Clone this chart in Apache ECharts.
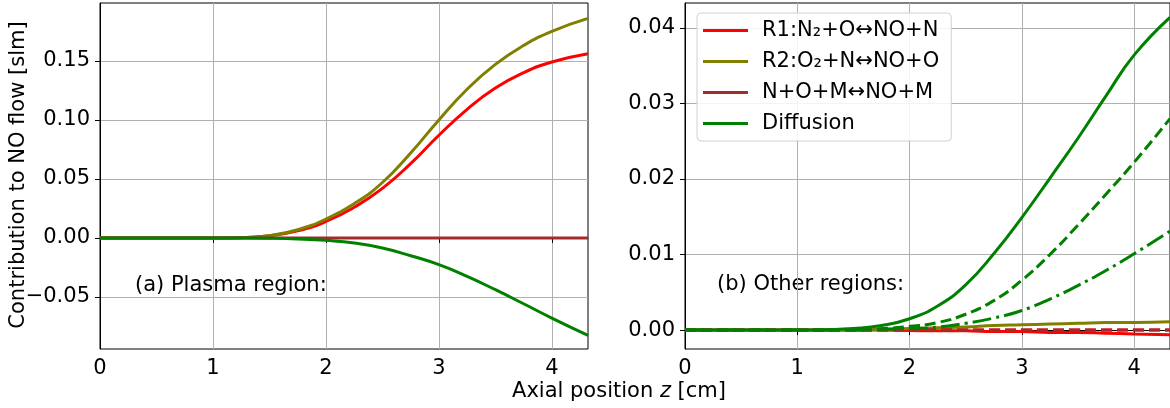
<!DOCTYPE html>
<html>
<head>
<meta charset="utf-8">
<script src="https://cdn.jsdelivr.net/npm/echarts@6/dist/echarts.min.js"></script>
<style>
  html, body { margin: 0; padding: 0; background: #fff; }
  #chart { width: 1170px; height: 408px; }
</style>
</head>
<body>
<div id="chart"></div>
<script>
// axial positions (cm)
var zs = [0, 0.5, 1, 1.25, 1.5, 1.75, 2, 2.25, 2.5, 2.75, 3, 3.25, 3.5, 3.75, 4, 4.32];

// (a) plasma region
var plasmaR1   = [0, 0, 0, 0.0003, 0.002, 0.006, 0.014, 0.026, 0.042, 0.063, 0.087, 0.109, 0.127, 0.140, 0.149, 0.156];
var plasmaR2   = [0, 0, 0, 0.0003, 0.002, 0.007, 0.016, 0.029, 0.047, 0.072, 0.100, 0.126, 0.147, 0.163, 0.175, 0.186];
var plasmaR3   = [0, 0, 0, 0, 0, 0, 0, 0, 0, 0, 0, 0, 0, 0, 0, 0];
var plasmaDiff = [0, 0, 0, 0, -0.0002, -0.0008, -0.002, -0.0042, -0.0085, -0.015, -0.0226, -0.0325, -0.0438, -0.0557, -0.0678, -0.0825];

// (b) other regions
var otherR1       = [0, 0, 0, 0, 0, 0, -0.00005, -0.0001, -0.0001, -0.0002, -0.0002, -0.0003, -0.0003, -0.0004, -0.0005, -0.0006];
var otherR2       = [0, 0, 0, 0, 0, 0.0001, 0.0002, 0.0003, 0.0004, 0.0006, 0.0007, 0.0008, 0.0009, 0.001, 0.001, 0.0011];
var otherR3       = [0, 0, 0, 0, 0, 0, 0, 0, 0, 0, 0, 0, 0, 0, 0, 0];
var otherDiff     = [0, 0, 0, 0.00005, 0.0002, 0.0006, 0.0015, 0.0032, 0.006, 0.0101, 0.0149, 0.0201, 0.0254, 0.031, 0.0364, 0.0414];
var otherDiffDash = [0, 0, 0, 0, 0.0001, 0.0002, 0.0005, 0.001, 0.0021, 0.0039, 0.0066, 0.0100, 0.0139, 0.0180, 0.0222, 0.0280];
var otherDiffDot  = [0, 0, 0, 0, 0, 0.0001, 0.0002, 0.0004, 0.0009, 0.0016, 0.0026, 0.0041, 0.0059, 0.0079, 0.0101, 0.0131];

var xTicks = [0, 1, 2, 3, 4];
var yTicksA = [-0.05, 0, 0.05, 0.10, 0.15];
var yTicksB = [0, 0.01, 0.02, 0.03, 0.04];

var names = ['R1:N\u2082+O\u2194NO+N', 'R2:O\u2082+N\u2194NO+O', 'N+O+M\u2194NO+M', 'Diffusion'];
var colors = ['#ff0000', '#808000', '#a52a2a', '#008000'];

var FONT = 'DejaVu Sans';
var FS = 21;
var LW = 3;

function pairs(ys) {
    return zs.map(function (z, i) { return [z, ys[i]]; });
}

function fmt(v) {
    var s = Math.abs(v).toFixed(2);
    return v < -1e-9 ? '\u2212' + s : s;
}

function xAxisFor(idx) {
    return {
        type: 'value', gridIndex: idx, min: 0, max: 4.32,
        axisLine: { show: true, lineStyle: { color: '#000', width: 1 } },
        axisTick: { show: true, length: 5, lineStyle: { color: '#000' }, customValues: xTicks },
        axisLabel: { color: '#000', fontSize: FS, fontFamily: FONT, margin: 9, customValues: xTicks },
        splitLine: { show: true, lineStyle: { color: '#b0b0b0', width: 1 } }
    };
}

function yAxisFor(idx, mn, mx, ticks) {
    return {
        type: 'value', gridIndex: idx, min: mn, max: mx,
        axisLine: { show: true, onZero: false, lineStyle: { color: '#000', width: 1 } },
        axisTick: { show: true, length: 5, lineStyle: { color: '#000' }, customValues: ticks },
        axisLabel: { color: '#000', fontSize: FS, fontFamily: FONT, margin: 10, customValues: ticks, formatter: fmt },
        splitLine: { show: true, lineStyle: { color: '#b0b0b0', width: 1 } }
    };
}

function line(name, idx, ys, color, type) {
    return {
        name: name, type: 'line', xAxisIndex: idx, yAxisIndex: idx,
        data: pairs(ys), showSymbol: false, smooth: 0.5,
        lineStyle: { color: color, width: LW, type: type || 'solid' },
        itemStyle: { color: color },
        silent: true, animation: false
    };
}

var chart = echarts.init(document.getElementById('chart'), null, { renderer: 'canvas' });

var option = {
    backgroundColor: '#fff',
    animation: false,
    grid: [
        { left: 100, top: 3, width: 488, height: 346, show: true, borderColor: '#000', borderWidth: 1, backgroundColor: 'transparent' },
        { left: 685, top: 3, width: 488, height: 346, show: true, borderColor: '#000', borderWidth: 1, backgroundColor: 'transparent' }
    ],
    xAxis: [xAxisFor(0), xAxisFor(1)],
    yAxis: [
        yAxisFor(0, -0.094, 0.199, yTicksA),
        yAxisFor(1, -0.0025, 0.0433, yTicksB)
    ],
    legend: {
        data: names,
        left: 697, top: 13,
        orient: 'vertical',
        icon: 'rect', itemWidth: 45, itemHeight: 3, itemGap: 10,
        padding: [7, 12, 7, 6],
        backgroundColor: 'rgba(255,255,255,0.85)',
        borderColor: '#d0d0d0', borderWidth: 1, borderRadius: 4,
        textStyle: { color: '#000', fontSize: FS, fontFamily: FONT, padding: [0, 0, 0, 9] },
        selectedMode: false
    },
    graphic: [
        { type: 'text', left: 135, top: 275, style: { text: '(a) Plasma region:', font: FS + 'px "DejaVu Sans"', fill: '#000' } },
        { type: 'text', left: 717, top: 274, style: { text: '(b) Other regions:', font: FS + 'px "DejaVu Sans"', fill: '#000' } },
        { type: 'text', x: 19, y: 175, rotation: Math.PI / 2,
          style: { text: 'Contribution to NO flow [slm]', font: FS + 'px "DejaVu Sans"', fill: '#000', align: 'center', verticalAlign: 'middle' } },
        { type: 'text', x: 619, y: 392,
          style: {
              text: '{n|Axial position }{i|z}{n| [cm]}',
              align: 'center', verticalAlign: 'middle',
              rich: {
                  n: { fontSize: FS, fontFamily: FONT, fill: '#000', color: '#000' },
                  i: { fontSize: FS, fontFamily: FONT, fontStyle: 'italic', fill: '#000', color: '#000' }
              }
          } }
    ],
    series: [
        line(names[0], 0, plasmaR1, colors[0]),
        line(names[1], 0, plasmaR2, colors[1]),
        line(names[2], 0, plasmaR3, colors[2]),
        line(names[3], 0, plasmaDiff, colors[3]),

        line(names[0], 1, otherR1, colors[0]),
        line(names[1], 1, otherR2, colors[1]),
        line('R1 b dashed', 1, otherR3, colors[0], [11, 5]),
        line(names[2], 1, otherR3, colors[2], [11, 5]),
        line(names[3], 1, otherDiff, colors[3]),
        line('Diff dashed', 1, otherDiffDash, colors[3], [11, 5]),
        line('Diff dashdot', 1, otherDiffDot, colors[3], [19, 5, 3, 5])
    ]
};

chart.setOption(option);
</script>
</body>
</html>
